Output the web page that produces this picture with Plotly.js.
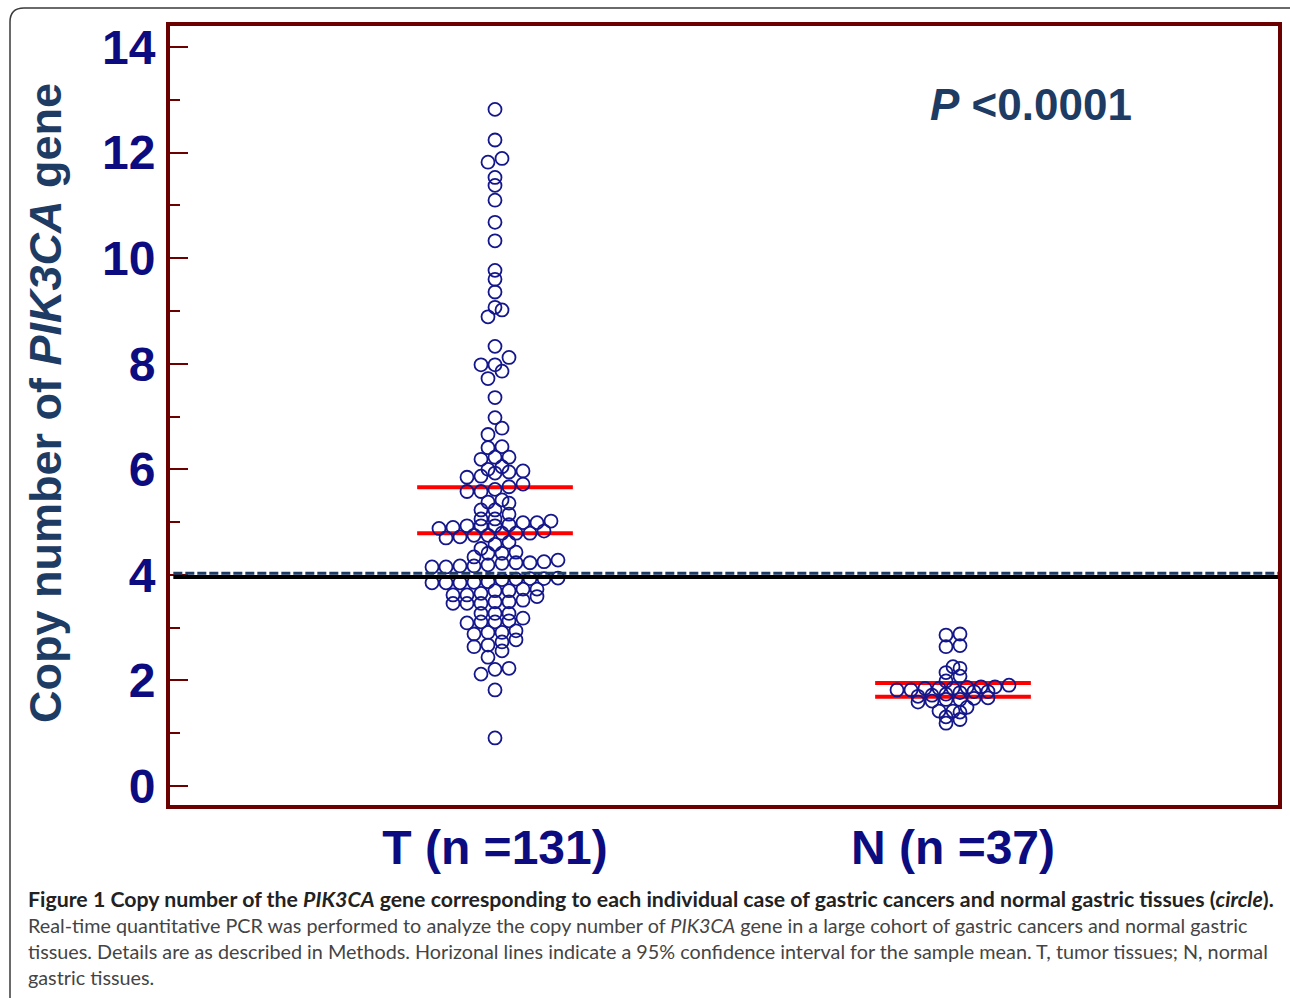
<!DOCTYPE html>
<html>
<head>
<meta charset="utf-8">
<script src="https://cdn.plot.ly/plotly-3.0.1.min.js"></script>
<style>html,body{margin:0;padding:0;background:#fff;}#chart{width:1290px;height:998px;}</style>
</head>
<body>
<div id="chart"></div>
<script>
// ---- data ----
const groups = ['T', 'N'];
const tickLabels = ['T (n =131)', 'N (n =37)'];
const tumorValues = [
  12.82, 12.24, 11.89, 11.82, 11.53, 11.38, 11.10, 10.68, 10.33, 9.77, 9.60, 9.36, 9.07, 9.02, 8.89,
  8.33, 8.12, 7.98, 7.98, 7.86, 7.72, 7.36,
  6.98, 6.78, 6.66, 6.43, 6.41, 6.23, 6.23, 6.19, 6.05, 6.00, 5.97, 5.95, 5.93, 5.87, 5.85,
  5.72, 5.67, 5.62, 5.58, 5.58,
  5.42, 5.38, 5.36, 5.23, 5.23, 5.15, 5.06, 5.06, 5.02, 4.99, 4.99, 4.95, 4.93, 4.93, 4.93, 4.90, 4.88,
  4.83, 4.79, 4.79, 4.79, 4.75, 4.75, 4.72, 4.70,
  4.62, 4.58, 4.50, 4.43, 4.41, 4.41, 4.34,
  4.28, 4.25, 4.23, 4.23, 4.22, 4.19, 4.17, 4.17, 4.15, 4.15,
  3.94, 3.93, 3.93, 3.92, 3.91, 3.87, 3.86, 3.85, 3.85, 3.85,
  3.73, 3.73, 3.70, 3.70, 3.65, 3.62, 3.62,
  3.59, 3.52, 3.49, 3.49, 3.46, 3.46, 3.46,
  3.27, 3.27, 3.27,
  3.18, 3.13, 3.11, 3.11, 3.09,
  2.94, 2.91, 2.91, 2.88,
  2.77, 2.73, 2.67, 2.64,
  2.56, 2.44,
  2.23, 2.21, 2.12,
  1.82, 0.91
];
const normalValues = [
  2.88, 2.86, 2.66, 2.64, 2.26, 2.23, 2.15, 2.08, 1.99,
  1.91, 1.88, 1.88, 1.87, 1.85, 1.85, 1.85, 1.82, 1.82,
  1.79, 1.79, 1.77, 1.74, 1.72, 1.70,
  1.67, 1.66, 1.64, 1.64, 1.61, 1.59,
  1.49, 1.42, 1.42, 1.40, 1.31, 1.26, 1.19
];
const ciTumor = [4.79, 5.66];
const ciNormal = [1.69, 1.95];
const solidRefLine = 3.96;
const dashedRefLine = 4.03;
const pValueText = '<i>P</i> &lt;0.0001';

// ---- layout geometry ----
const W = 1290, H = 998;
const M = {l: 170, r: 12, t: 26, b: 193};
const plotW = W - M.l - M.r, plotH = H - M.t - M.b;
const xRange = [-0.7096, 1.7096];
const yRange = [-0.36, 14.40];
const pxPerX = plotW / (xRange[1] - xRange[0]);
const px2x = p => (p - M.l) / plotW;          // page px -> paper x
const px2y = p => (H - M.b - p) / plotH;      // page px -> paper y

// dot-plot layout: values grouped in rows (ascending), each row centred
const SPACING_PX = 14;
function swarmX(values, center, rowTol) {
  const idx = values.map((v, i) => i).sort((a, b) => values[a] - values[b]);
  const xs = new Array(values.length);
  let row = [];
  const flush = () => {
    row.forEach((i, k) => { xs[i] = center + (k - (row.length - 1) / 2) * SPACING_PX / pxPerX; });
    row = [];
  };
  for (const i of idx) {
    if (row.length && values[i] - values[row[0]] > rowTol + 1e-9) flush();
    row.push(i);
  }
  flush();
  return xs;
}

const markerStyle = {symbol: 'circle-open', size: 13, color: '#14168c', line: {width: 1.8, color: '#14168c'}};

const traces = [
  {type: 'scatter', mode: 'markers', x: swarmX(tumorValues, 0, 0.145), y: tumorValues,
   marker: markerStyle, hoverinfo: 'skip', showlegend: false},
  {type: 'scatter', mode: 'markers', x: swarmX(normalValues, 1, 0.1), y: normalValues,
   marker: markerStyle, hoverinfo: 'skip', showlegend: false}
];

const CI_HALF = 0.17;
const shapes = [];
[[0, ciTumor], [1, ciNormal]].forEach(([c, ci]) => {
  ci.forEach(v => shapes.push({type: 'line', xref: 'x', yref: 'y', x0: c - CI_HALF, x1: c + CI_HALF, y0: v, y1: v,
    line: {color: '#ff0000', width: 4}, layer: 'below'}));
});
shapes.push({type: 'line', xref: 'paper', yref: 'y', x0: 0.003, x1: 1, y0: solidRefLine, y1: solidRefLine,
  line: {color: '#000000', width: 4}, layer: 'above'});
shapes.push({type: 'line', xref: 'paper', yref: 'y', x0: 0.003, x1: 1, y0: dashedRefLine, y1: dashedRefLine,
  line: {color: '#1d3b63', width: 3, dash: '9px,3px'}, layer: 'above'});
// figure frame (rounded corner at top-left)
shapes.push({type: 'path', xref: 'paper', yref: 'paper',
  path: `M ${px2x(10)},${px2y(1010)} L ${px2x(10)},${px2y(22)} Q ${px2x(10)},${px2y(8)} ${px2x(24)},${px2y(8)} L ${px2x(1300)},${px2y(8)}`,
  line: {color: '#3a3a3a', width: 1.5}});

const capFont = {family: 'Lato, "Open Sans", sans-serif', size: 19.8, color: '#444444'};
const captionLines = [
  '<b>Figure 1 Copy number of the <i>PIK3CA</i> gene corresponding to each individual case of gastric cancers and normal gastric tissues (<i>circle</i>).</b>',
  'Real-time quantitative PCR was performed to analyze the copy number of <i>PIK3CA</i> gene in a large cohort of gastric cancers and normal gastric',
  'tissues. Details are as described in Methods. Horizonal lines indicate a 95% confidence interval for the sample mean. T, tumor tissues; N, normal',
  'gastric tissues.'
];
const captionY = [899, 925, 951, 977];

const annotations = [
  {xref: 'paper', yref: 'paper', x: px2x(45), y: px2y(403), xanchor: 'center', yanchor: 'middle',
   text: 'Copy number of <i>PIK3CA</i> gene', textangle: -90, showarrow: false,
   font: {family: '"Liberation Sans", Arial, sans-serif', size: 45, weight: 700, color: '#1d3b63'}},
  {xref: 'paper', yref: 'paper', x: px2x(928), y: px2y(105), xanchor: 'left', yanchor: 'middle',
   text: pValueText, showarrow: false,
   font: {family: '"Liberation Sans", Arial, sans-serif', size: 44, weight: 700, color: '#1d3b63'}}
];
captionLines.forEach((t, i) => annotations.push({
  xref: 'paper', yref: 'paper', x: px2x(26), y: px2y(captionY[i]), xanchor: 'left', yanchor: 'middle',
  text: t, showarrow: false, align: 'left',
  font: Object.assign({}, capFont, i === 0 ? {color: '#222222', size: 21.3} : {})
}));

const layout = {
  width: W, height: H, margin: M, paper_bgcolor: '#ffffff', plot_bgcolor: '#ffffff',
  showlegend: false,
  xaxis: {range: xRange, tickvals: [0, 1], ticktext: tickLabels, showgrid: false, zeroline: false,
    showline: true, mirror: true, linecolor: '#6b0000', linewidth: 4, ticks: '', ticklabelstandoff: -3,
    tickfont: {family: '"Liberation Sans", Arial, sans-serif', size: 48, weight: 700, color: '#0c0c80'}},
  yaxis: {range: yRange, tickvals: [0, 2, 4, 6, 8, 10, 12, 14], showgrid: false, zeroline: false,
    showline: true, mirror: true, linecolor: '#6b0000', linewidth: 4,
    ticks: 'inside', ticklen: 18, tickwidth: 2, tickcolor: '#6b0000', ticklabelstandoff: 1,
    minor: {tickvals: [1, 3, 5, 7, 9, 11, 13], ticks: 'inside', ticklen: 10, tickwidth: 2, tickcolor: '#6b0000'},
    tickfont: {family: '"Liberation Sans", Arial, sans-serif', size: 48, weight: 700, color: '#0c0c80'}},
  shapes: shapes,
  annotations: annotations
};

Plotly.newPlot('chart', traces, layout, {displayModeBar: false, staticPlot: true});
</script>
</body>
</html>
